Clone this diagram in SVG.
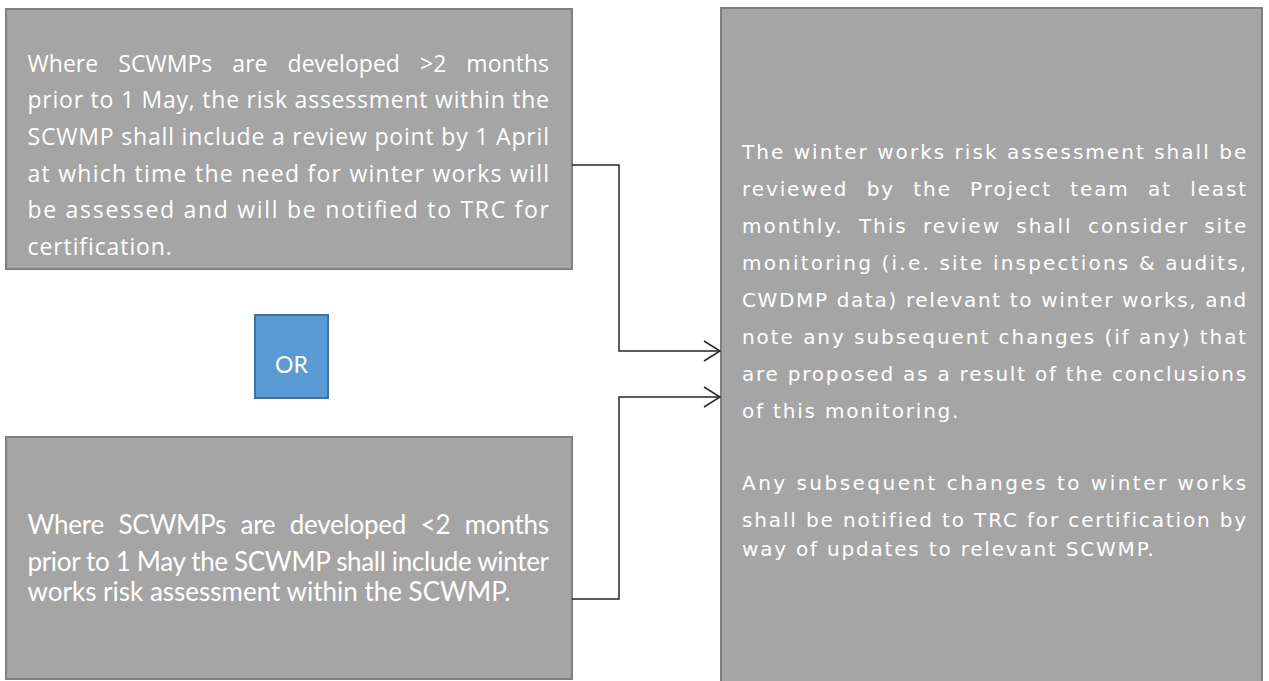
<svg xmlns="http://www.w3.org/2000/svg" width="1269" height="681" viewBox="0 0 1269 681">
<defs>
<style>
.box{fill:#A5A5A5;stroke:#7F7F7F;stroke-width:2}
.or{fill:#5B9BD5;stroke:#41719C;stroke-width:2}
.t1{font-family:"Open Sans","Liberation Sans",sans-serif;font-size:23px;fill:#FFFFFF}
.t2{font-family:Lato,"Liberation Sans",sans-serif;font-size:26px;fill:#FFFFFF}
.t3{font-family:"DejaVu Sans","Liberation Sans",sans-serif;font-size:20px;letter-spacing:1.8px;fill:#FFFFFF}
.tor{font-family:Lato,"Liberation Sans",sans-serif;font-size:23px;fill:#FFFFFF}
.conn{fill:none;stroke:#262626;stroke-width:1.5}
</style>
<marker id="arr" markerUnits="userSpaceOnUse" markerWidth="20" markerHeight="24" refX="17" refY="11" orient="auto">
<path d="M1,1 L17,11 L1,21" fill="none" stroke="#262626" stroke-width="1.5"/>
</marker>
</defs>
<rect width="1269" height="681" fill="#FFFFFF"/>
<g id="box-top">
<rect class="box" x="6" y="9" width="566" height="260"/>
<text class="t1" x="27.5" y="72" word-spacing="14" textLength="521.5" lengthAdjust="spacing"><tspan>Where</tspan> <tspan>SCWMPs</tspan> <tspan>are</tspan> <tspan>developed</tspan> <tspan>&gt;2</tspan> <tspan>months</tspan></text>
<text class="t1" x="27.5" y="108" textLength="521.5" lengthAdjust="spacing"><tspan>prior</tspan> <tspan>to</tspan> <tspan>1</tspan> <tspan>May,</tspan> <tspan>the</tspan> <tspan>risk</tspan> <tspan>assessment</tspan> <tspan>within</tspan> <tspan>the</tspan></text>
<text class="t1" x="27.5" y="145" textLength="521.5" lengthAdjust="spacing"><tspan>SCWMP</tspan> <tspan>shall</tspan> <tspan>include</tspan> <tspan>a</tspan> <tspan>review</tspan> <tspan>point</tspan> <tspan>by</tspan> <tspan>1</tspan> <tspan>April</tspan></text>
<text class="t1" x="27.5" y="182" textLength="521.5" lengthAdjust="spacing"><tspan>at</tspan> <tspan>which</tspan> <tspan>time</tspan> <tspan>the</tspan> <tspan>need</tspan> <tspan>for</tspan> <tspan>winter</tspan> <tspan>works</tspan> <tspan>will</tspan></text>
<text class="t1" x="27.5" y="218" textLength="521.5" lengthAdjust="spacing"><tspan>be</tspan> <tspan>assessed</tspan> <tspan>and</tspan> <tspan>will</tspan> <tspan>be</tspan> <tspan>notified</tspan> <tspan>to</tspan> <tspan>TRC</tspan> <tspan>for</tspan></text>
<text class="t1" x="27.5" y="255" letter-spacing="0.9"><tspan>certification.</tspan></text>
</g>
<g id="or-box">
<rect class="or" x="255" y="315" width="73" height="83"/>
<text class="tor" x="291.5" y="373" text-anchor="middle">OR</text>
</g>
<g id="box-bottom">
<rect class="box" x="6" y="437" width="566" height="242"/>
<text class="t2" x="27.5" y="534" word-spacing="8" textLength="521.5" lengthAdjust="spacing"><tspan>Where</tspan> <tspan>SCWMPs</tspan> <tspan>are</tspan> <tspan>developed</tspan> <tspan>&lt;2</tspan> <tspan>months</tspan></text>
<text class="t2" x="27.5" y="571" textLength="521.5" lengthAdjust="spacing"><tspan>prior</tspan> <tspan>to</tspan> <tspan>1</tspan> <tspan>May</tspan> <tspan>the</tspan> <tspan>SCWMP</tspan> <tspan>shall</tspan> <tspan>include</tspan> <tspan>winter</tspan></text>
<text class="t2" x="27.5" y="601"><tspan>works</tspan> <tspan>risk</tspan> <tspan>assessment</tspan> <tspan>within</tspan> <tspan>the</tspan> <tspan>SCWMP.</tspan></text>
</g>
<g id="box-right">
<rect class="box" x="721" y="8" width="541" height="690"/>
<text class="t3" x="742" y="159" textLength="506" lengthAdjust="spacing"><tspan>The</tspan> <tspan>winter</tspan> <tspan>works</tspan> <tspan>risk</tspan> <tspan>assessment</tspan> <tspan>shall</tspan> <tspan>be</tspan></text>
<text class="t3" x="742" y="196" word-spacing="10" textLength="506" lengthAdjust="spacing"><tspan>reviewed</tspan> <tspan>by</tspan> <tspan>the</tspan> <tspan>Project</tspan> <tspan>team</tspan> <tspan>at</tspan> <tspan>least</tspan></text>
<text class="t3" x="742" y="233" word-spacing="7" textLength="506" lengthAdjust="spacing"><tspan>monthly.</tspan> <tspan>This</tspan> <tspan>review</tspan> <tspan>shall</tspan> <tspan>consider</tspan> <tspan>site</tspan></text>
<text class="t3" x="742" y="270" textLength="506" lengthAdjust="spacing"><tspan>monitoring</tspan> <tspan>(i.e.</tspan> <tspan>site</tspan> <tspan>inspections</tspan> <tspan>&amp;</tspan> <tspan>audits,</tspan></text>
<text class="t3" x="742" y="307" textLength="506" lengthAdjust="spacing"><tspan>CWDMP</tspan> <tspan>data)</tspan> <tspan>relevant</tspan> <tspan>to</tspan> <tspan>winter</tspan> <tspan>works,</tspan> <tspan>and</tspan></text>
<text class="t3" x="742" y="344" textLength="506" lengthAdjust="spacing"><tspan>note</tspan> <tspan>any</tspan> <tspan>subsequent</tspan> <tspan>changes</tspan> <tspan>(if</tspan> <tspan>any)</tspan> <tspan>that</tspan></text>
<text class="t3" x="742" y="381" textLength="506" lengthAdjust="spacing"><tspan>are</tspan> <tspan>proposed</tspan> <tspan>as</tspan> <tspan>a</tspan> <tspan>result</tspan> <tspan>of</tspan> <tspan>the</tspan> <tspan>conclusions</tspan></text>
<text class="t3" x="742" y="418"><tspan>of</tspan> <tspan>this</tspan> <tspan>monitoring.</tspan></text>
<text class="t3" x="742" y="490" textLength="506" lengthAdjust="spacing"><tspan>Any</tspan> <tspan>subsequent</tspan> <tspan>changes</tspan> <tspan>to</tspan> <tspan>winter</tspan> <tspan>works</tspan></text>
<text class="t3" x="742" y="527" textLength="506" lengthAdjust="spacing"><tspan>shall</tspan> <tspan>be</tspan> <tspan>notified</tspan> <tspan>to</tspan> <tspan>TRC</tspan> <tspan>for</tspan> <tspan>certification</tspan> <tspan>by</tspan></text>
<text class="t3" x="742" y="556"><tspan>way</tspan> <tspan>of</tspan> <tspan>updates</tspan> <tspan>to</tspan> <tspan>relevant</tspan> <tspan>SCWMP.</tspan></text>
</g>
<g id="connectors">
<path class="conn" d="M572,165 H619 V351 H720" marker-end="url(#arr)"/>
<path class="conn" d="M572,599 H619 V397 H720" marker-end="url(#arr)"/>
</g>
</svg>
